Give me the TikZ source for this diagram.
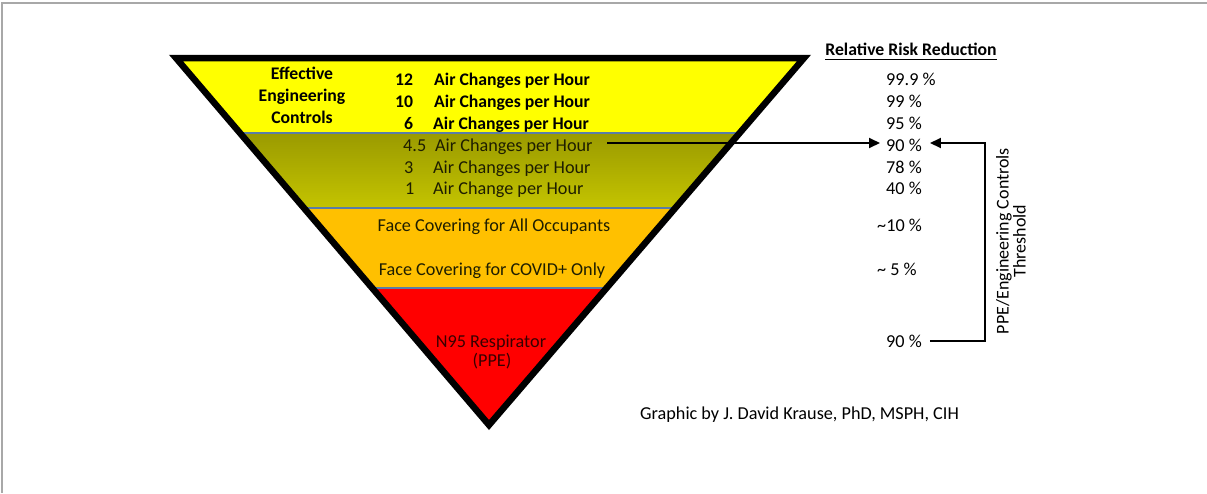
\documentclass[tikz,border=0pt]{standalone}
\usepackage{fontspec}
\setmainfont{Carlito}
\usetikzlibrary{arrows.meta}
\definecolor{ylw}{HTML}{FFFF00}
\definecolor{oliveT}{HTML}{9A9A00}
\definecolor{oliveB}{HTML}{C4C400}
\definecolor{orng}{HTML}{FFC000}
\definecolor{rd}{HTML}{FF0000}
\definecolor{sepcol}{HTML}{5A7DA6}
\definecolor{framegray}{HTML}{A8A8A8}
\definecolor{dtxt}{HTML}{1E1E00}
\definecolor{rtxt}{HTML}{380000}
\begin{document}
\begin{tikzpicture}[x=1pt,y=-1pt,
  txt/.style={font=\fontsize{18.2}{21}\selectfont, inner sep=0pt, text height=12pt, text depth=4pt},
  bt/.style={txt, font=\fontsize{17.7}{21}\selectfont\bfseries},
  arr/.style={line width=1.8pt, -{Triangle[length=11pt,width=10pt]}},
  sepline/.style={sepcol, line width=1.5pt},
]
\useasboundingbox (0,0) rectangle (1207,493);
\draw[framegray, line width=2pt] (2,493) -- (2,3) -- (1207,3);

\coordinate (TL) at (176,58);
\coordinate (TR) at (804,58);
\coordinate (AP) at (489,425);
\begin{scope}
  \clip (TL) -- (TR) -- (AP) -- cycle;
  \fill[ylw] (150,50) rectangle (830,133);
  \shade[top color=oliveT,bottom color=oliveB] (150,133) rectangle (830,208);
  \fill[orng] (150,208) rectangle (830,288);
  \fill[rd] (150,288) rectangle (830,440);
  \draw[sepline] (150,133) -- (830,133);
  \draw[sepline] (150,208) -- (830,208);
  \draw[sepline] (150,288) -- (830,288);
\end{scope}
\draw[line width=6.5pt, line join=miter] (TL) -- (TR) -- (AP) -- cycle;

% left labels
\node[bt, anchor=base] (eff1) at (302,79) {Effective};
\node[bt, anchor=base] (eff2) at (302,101) {Engineering};
\node[bt, anchor=base] (eff3) at (302,123) {Controls};

\node[bt, anchor=base west] (n12) at (395,85) {12};
\node[bt, anchor=base west] (n10) at (395,107) {10};
\node[bt, anchor=base west] (n6) at (404,129) {6};
\node[bt, anchor=base west] (r12) at (434,85) {Air Changes per Hour};
\node[bt, anchor=base west] (r10) at (434,107) {Air Changes per Hour};
\node[bt, anchor=base west] (r6) at (433,129) {Air Changes per Hour};

\node[txt, dtxt, anchor=base west] (n45) at (403,151) {4.5};
\node[txt, dtxt, anchor=base west] (n3) at (404,173) {3};
\node[txt, dtxt, anchor=base west] (n1) at (405,194) {1};
\node[txt, dtxt, anchor=base west] (r45) at (435,151) {Air Changes per Hour};
\node[txt, dtxt, anchor=base west] (r3) at (433,173) {Air Changes per Hour};
\node[txt, dtxt, anchor=base west] (r1) at (433,194) {Air Change per Hour};

\node[txt, dtxt, anchor=base] (fc1) at (494,231) {Face Covering for All Occupants};
\node[txt, dtxt, anchor=base] (fc2) at (492,275) {Face Covering for COVID+ Only};
\node[txt, rtxt, anchor=base] (n95) at (491,347) {N95 Respirator};
\node[txt, rtxt, anchor=base] (ppe) at (492,366) {(PPE)};

% right column
\node[bt, anchor=base] (head) at (911,55) {Relative Risk Reduction};
\draw[line width=1.1pt] (head.south west) -- (head.south east);
\node[txt, anchor=base west] (v999) at (886,85) {99.9 \%};
\node[txt, anchor=base west] (v99) at (886,107) {99 \%};
\node[txt, anchor=base west] (v95) at (886,129) {95 \%};
\node[txt, anchor=base west] (v90a) at (886,151) {90 \%};
\node[txt, anchor=base west] (v78) at (886,173) {78 \%};
\node[txt, anchor=base west] (v40) at (886,194) {40 \%};
\node[txt, anchor=base west] (v10) at (877,231) {\textasciitilde10 \%};
\node[txt, anchor=base west] (v5) at (877,275) {\textasciitilde\ 5 \%};
\node[txt, anchor=base west] (v90b) at (886,347) {90 \%};

% arrows
\coordinate (as) at (607,143);
\draw[arr, shorten >=6pt] (as) -- (v90a.west |- as);
\coordinate (br1) at (985,341);
\coordinate (br2) at (985,143);
\draw[arr] ([xshift=8pt]v90b.east |- br1) -- (br1) -- (br2) -- ([xshift=8pt]v90a.east |- br2);

\node[font=\fontsize{18}{17}\selectfont, inner sep=0pt, rotate=90, align=center] (thr) at (1011,241) {PPE/Engineering Controls\\Threshold};

\node[txt, anchor=base west] (credit) at (640,419) {Graphic by J. David Krause, PhD, MSPH, CIH};
\end{tikzpicture}
\end{document}
